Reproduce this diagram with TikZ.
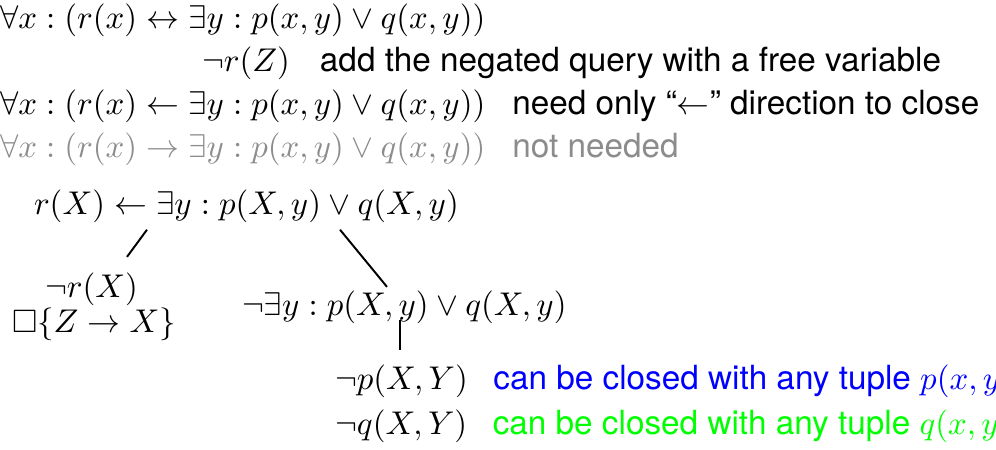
\documentclass[tikz,border=0pt]{standalone}
\usepackage{amsmath}
\usepackage{amssymb}
\usepackage{fontspec}
\setsansfont{TeX Gyre Heros}
\usepackage{xcolor}
\usetikzlibrary{positioning}

\definecolor{tupleblue}{RGB}{0,0,255}
\definecolor{tuplegreen}{RGB}{0,255,0}

\begin{document}
\begin{tikzpicture}[
  x=0.3333pt, y=-0.3333pt,
  every node/.style={inner sep=0pt, outer sep=0pt,
                     font=\fontsize{10.8}{13}\selectfont},
  fml/.style={anchor=base west},
  note/.style={font=\sffamily\fontsize{11.1}{13}\selectfont},
  unused/.style={text=black!45},
  branch/.style={line width=0.65pt},
]
\useasboundingbox (0,0) rectangle (996,450);
% the definition and the negated query
\node[fml] (def) at (0,29) {$\forall x : (r(x) \leftrightarrow \exists y : p(x,y) \lor q(x,y))$};
\node[fml] (query) at (202,72) {$\neg r(Z)$};
\node[note] (qnote) [base right=10pt of query] {add the negated query with a free variable};
\node[fml] (back) at (0,115) {$\forall x : (r(x) \leftarrow \exists y : p(x,y) \lor q(x,y))$};
\node[note] (bnote) [base right=9pt of back] {need only ``$\leftarrow$'' direction to close};
\node[fml, unused] (fwd) at (0,158) {$\forall x : (r(x) \rightarrow \exists y : p(x,y) \lor q(x,y))$};
\node[note, unused] (fnote) [base right=9pt of fwd] {not needed};
% the tableau
\node[fml] (root) at (34,214.5) {$r(X) \leftarrow \exists y : p(X,y) \lor q(X,y)$};
\node[fml] (negr) at (45,297.5) {$\neg r(X)$};
\node[fml] (closed) at (12,332.5) {$\Box\{Z \rightarrow X\}$};
\node[fml] (negex) at (242,316) {$\neg\exists y : p(X,y) \lor q(X,y)$};
\node[fml] (negp) at (335,389.5) {$\neg p(X,Y)$};
\node[note, text=tupleblue] (pnote) [base right=8.5pt of negp] {can be closed with any tuple $p(x,y)$};
\node[fml] (negq) at (335,434.5) {$\neg q(X,Y)$};
\node[note, text=tuplegreen] (qnote2) [base right=8.5pt of negq] {can be closed with any tuple $q(x,y)$};
\draw[branch] ([shift={(113,7)}]root.south west) -- ([shift={(82,-16)}]negr.north west);
\draw[branch] ([shift={(306,7)}]root.south west) -- ([shift={(145,-4.5)}]negex.north west);
\draw[branch] ([shift={(158,-4)}]negex.south west) -- ([shift={(65,-15)}]negp.north west);
\end{tikzpicture}
\end{document}
